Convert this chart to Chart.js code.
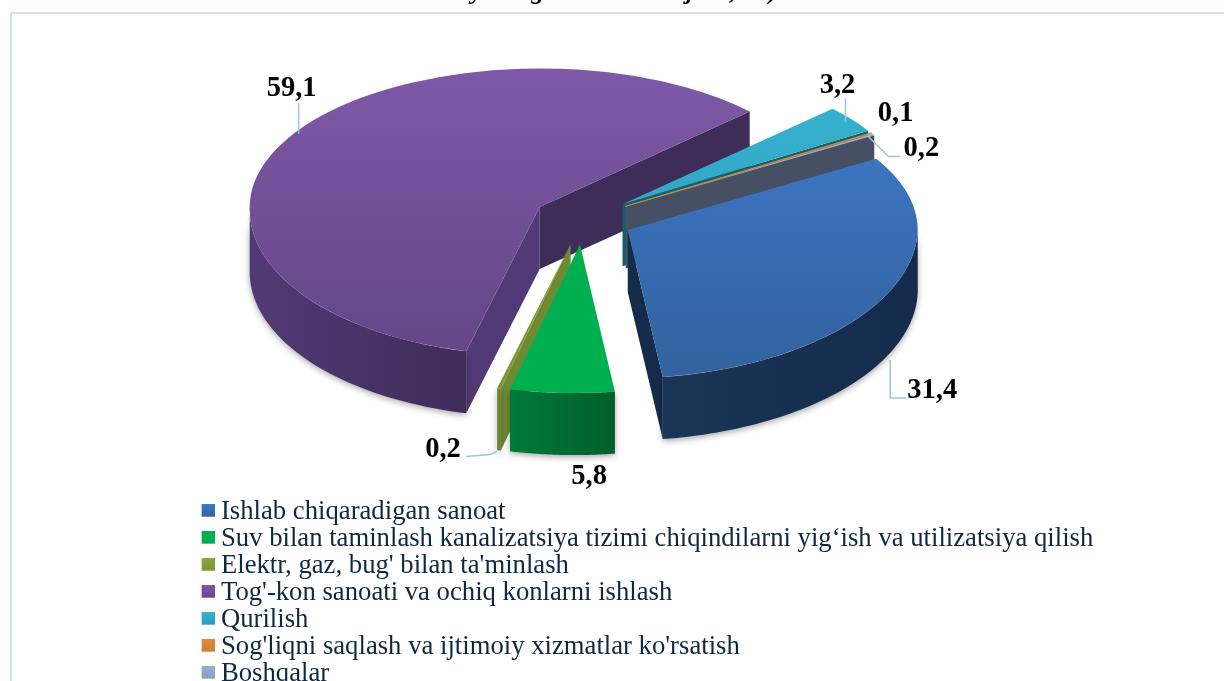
<!DOCTYPE html>
<html>
<head>
<meta charset="utf-8">
<style>
html, body { margin: 0; background: #fff; overflow: hidden; height: 681px; }
#frame { position: absolute; left: 10px; top: 12px; width: 1300px; height: 800px; border: 2px solid #d3e3f4; }
canvas { position: absolute; left: 0; top: 0; }
</style>
<script src="https://cdn.jsdelivr.net/npm/chart.js@4"></script>
</head>
<body>
<div id="frame"></div>
<canvas id="grafico" width="1224" height="720"></canvas>
<script>
const categories = [
    "Ishlab chiqaradigan sanoat",
    "Suv bilan taminlash kanalizatsiya tizimi chiqindilarni yig‘ish va utilizatsiya qilish",
    "Elektr, gaz, bug' bilan ta'minlash",
    "Tog'-kon sanoati va ochiq konlarni ishlash",
    "Qurilish",
    "Sog'liqni saqlash va ijtimoiy xizmatlar ko'rsatish",
    "Boshqalar"
]
const values = [31.4, 5.8, 0.2, 59.1, 3.2, 0.1, 0.2]

const topLight = ["#3f7acb", "#00b050", "#8aa83c", "#7f59a8", "#36b4d2", "#e08a3e", "#98aed3"]
const topDark = ["#32629f", "#00b050", "#7a9636", "#654688", "#2d9db8", "#d07f38", "#8a9fc4"]
const wallLight = ["#1a3557", "#007a3a", "#6f8a33", "#523a76", "#1a6f78", "#a8632a", "#4b5569"]
const wallDark = ["#142b4c", "#005f2c", "#5f7a2a", "#3e2c59", "#14606a", "#8f5322", "#464f63"]

const tiltBack = 0.478
const tiltFront = 0.512
const skewFront = -0.018
const explode = 50
const depth = 62
const drawOrder = [3, 4, 6, 5, 0, 2, 1]
const noWalls = [5]

// label and leader points, relative to the rim point of each slice
const labelNudge = [[45, 97], [27, 84], [-56, 61], [3, -49], [-14, -34], [24, -19], [48, 14]]
const leaders = [
    [[3, 66], [3, 104], [19, 104]],
    [],
    [[-2, 63], [-9, 66], [-33, 68]],
    [[10, -4], [10, -35]],
    [[-6, 3], [-6, -21]],
    [],
    [[-6, 1], [15, 22], [27, 22]]
]
// only the descenders of the cut off title are left in the picture
const titleBits = ["y", "g", "j", ",", ")"]
const titleBitsX = [477, 538, 690, 733, 773]

function project(el, dx, dy, ang, r) {
    const c = Math.cos(ang) * r
    const s = Math.sin(ang) * r
    return s > 0
        ? [el.x + dx + c + s * skewFront, el.y + dy + s * tiltFront]
        : [el.x + dx + c, el.y + dy + s * tiltBack]
}

function topGradient(c) {
    const area = c.chart.chartArea
    if (!area) return topLight[c.dataIndex]
    const cy = (area.top + area.bottom) / 2
    const g = c.chart.ctx.createLinearGradient(0, cy - 290, 0, cy + 290)
    g.addColorStop(0, topLight[c.dataIndex])
    g.addColorStop(1, topDark[c.dataIndex])
    return g
}

function swatch(i) {
    const cv = document.createElement("canvas")
    cv.width = 15
    cv.height = 16
    const x = cv.getContext("2d")
    const g = x.createLinearGradient(0, 0, 0, 13)
    g.addColorStop(0, topLight[i])
    g.addColorStop(1, topDark[i])
    x.fillStyle = g
    x.fillRect(2, 0, 13, 13)
    return cv
}

function drawWalls(ctx, el, i, dx, dy) {
    const r = el.outerRadius
    const a = el.startAngle
    const b = el.endAngle
    const apex = [el.x + dx, el.y + dy]

    const wall = ang => {
        const p = project(el, dx, dy, ang, r)
        ctx.beginPath()
        ctx.moveTo(apex[0], apex[1])
        ctx.lineTo(p[0], p[1])
        ctx.lineTo(p[0], p[1] + depth)
        ctx.lineTo(apex[0], apex[1] + depth)
        ctx.closePath()
        ctx.fill()
    }

    ctx.fillStyle = wallLight[i]
    if (Math.cos(a) < 0) wall(a)
    ctx.fillStyle = wallDark[i]
    if (Math.cos(b) > 0) wall(b)

    // rim, only the part that faces us
    const s = Math.max(a, 0)
    const e = Math.min(b, Math.PI)
    if (e > s) {
        const pts = []
        for (let k = 0; k <= 60; k++) pts.push(project(el, dx, dy, s + (e - s) * k / 60, r))
        const g = ctx.createLinearGradient(pts[60][0], 0, pts[0][0], 0)
        g.addColorStop(0, wallLight[i])
        g.addColorStop(1, wallDark[i])
        ctx.fillStyle = g
        ctx.save()
        ctx.shadowColor = "rgba(0,0,0,0.35)"
        ctx.shadowBlur = 6
        ctx.shadowOffsetY = 2
        ctx.beginPath()
        pts.forEach((p, k) => k ? ctx.lineTo(p[0], p[1]) : ctx.moveTo(p[0], p[1]))
        pts.slice().reverse().forEach(p => ctx.lineTo(p[0], p[1] + depth))
        ctx.closePath()
        ctx.fill()
        ctx.restore()
    }
}

function drawTop(ctx, el, dx, dy) {
    const ax = el.x + dx
    const ay = el.y + dy
    // back half and front half of the disc have a slightly different tilt
    ctx.save()
    ctx.beginPath()
    ctx.rect(0, 0, 1224, ay)
    ctx.clip()
    ctx.transform(1, 0, 0, tiltBack, ax, ay)
    ctx.translate(-el.x, -el.y)
    el.draw(ctx)
    ctx.restore()

    ctx.save()
    ctx.beginPath()
    ctx.rect(0, ay, 1224, 720)
    ctx.clip()
    ctx.transform(1, 0, skewFront, tiltFront, ax, ay)
    ctx.translate(-el.x, -el.y)
    el.draw(ctx)
    ctx.restore()
}

const pie3d = {
    id: "pie3d",
    afterLayout(chart) {
        const lg = chart.legend
        lg.left = 206.3
        lg.top = 498
        lg.right = 1224
        lg.bottom = 720
        lg.draw = function () {
            chart.ctx.save()
            this._draw()
            chart.ctx.restore()
        }
    },
    beforeDatasetsDraw(chart) {
        const ctx = chart.ctx
        const arcs = chart.getDatasetMeta(0).data
        drawOrder.forEach(i => {
            const el = arcs[i]
            const mid = (el.startAngle + el.endAngle) / 2
            const apex = project(el, 0, 0, mid, explode)
            const dx = apex[0] - el.x
            const dy = apex[1] - el.y
            ctx.save()
            if (!noWalls.includes(i)) drawWalls(ctx, el, i, dx, dy)
            drawTop(ctx, el, dx, dy)
            ctx.restore()
        })
        return false
    },
    afterDraw(chart) {
        const ctx = chart.ctx
        const arcs = chart.getDatasetMeta(0).data
        ctx.save()
        ctx.textAlign = "center"
        ctx.textBaseline = "middle"
        arcs.forEach((el, i) => {
            const mid = (el.startAngle + el.endAngle) / 2
            const rim = project(el, 0, 0, mid, el.outerRadius + explode)
            if (leaders[i].length) {
                ctx.strokeStyle = "#9dc3e6"
                ctx.lineWidth = 1.5
                ctx.beginPath()
                leaders[i].forEach((p, k) => {
                    if (k) ctx.lineTo(rim[0] + p[0], rim[1] + p[1])
                    else ctx.moveTo(rim[0] + p[0], rim[1] + p[1])
                })
                ctx.stroke()
            }
            ctx.font = "bold 28.5px 'Liberation Serif'"
            ctx.fillStyle = "#000"
            ctx.fillText(values[i].toString().replace(".", ","), rim[0] + labelNudge[i][0], rim[1] + labelNudge[i][1])
        })
        ctx.font = "italic bold 26px 'Liberation Serif'"
        ctx.textBaseline = "alphabetic"
        titleBits.forEach((t, i) => ctx.fillText(t, titleBitsX[i], -1))
        ctx.restore()
    }
}

new Chart(document.getElementById("grafico"), {
    type: "pie",
    data: {
        labels: categories,
        datasets: [{
            data: values,
            backgroundColor: topGradient,
            borderWidth: [0, 0, 0, 0, 0, 1, 0],
            borderColor: "#e08a3e"
        }]
    },
    options: {
        responsive: false,
        animation: false,
        rotation: 59,
        radius: 290,
        layout: { padding: { right: 58, bottom: 282 } },
        events: [],
        plugins: {
            tooltip: { enabled: false },
            legend: {
                position: "chartArea",
                align: "start",
                labels: {
                    usePointStyle: true,
                    pointStyleWidth: 1,
                    padding: 0.3,
                    color: "#0e2841",
                    font: { family: "'Liberation Serif'", size: 26.7 },
                    generateLabels: chart => categories.map((text, i) => ({
                        text,
                        index: i,
                        pointStyle: swatch(i),
                        fontColor: "#0e2841",
                        lineWidth: 0
                    }))
                }
            }
        }
    },
    plugins: [pie3d]
})
</script>
</body>
</html>
